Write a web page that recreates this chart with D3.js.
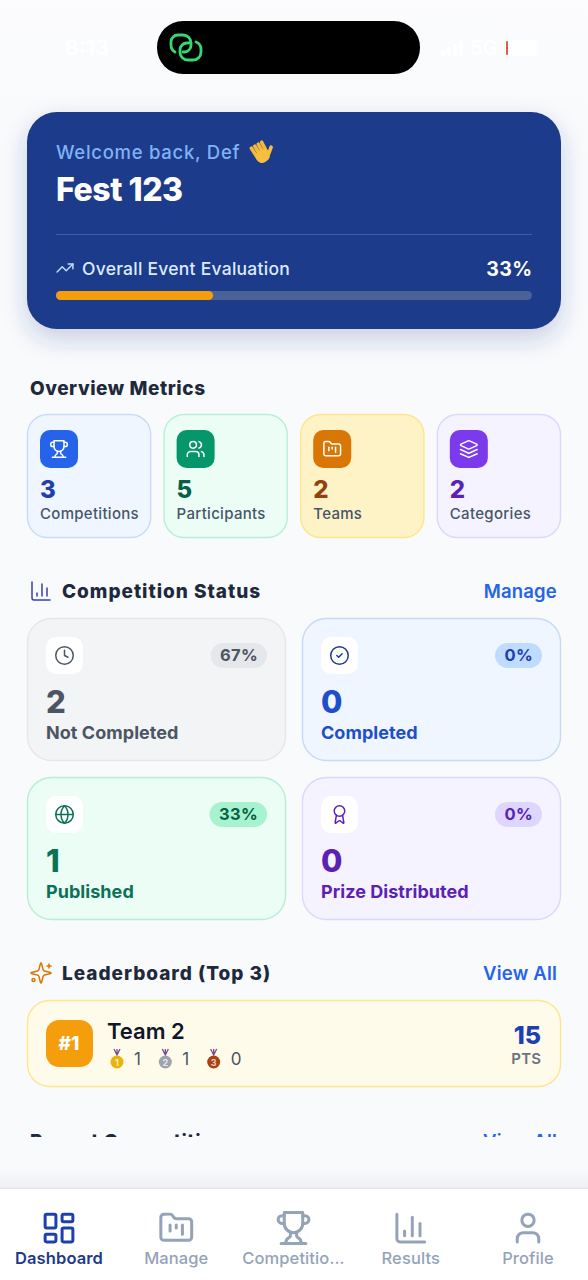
<!DOCTYPE html>
<html>
<head>
<meta charset="utf-8">
<script src="https://cdn.jsdelivr.net/npm/d3@7"></script>
<style>
  html,body{margin:0;padding:0;background:#f8fafc;}
  svg{display:block;}
  text{font-family:Inter,"Noto Sans",sans-serif;}
</style>
</head>
<body>
<script>
// Dashboard data
var metricLabels = ['Competitions','Participants','Teams','Categories'],
    metricValues = [3,5,2,2],
    statusLabels = ['Not Completed','Completed','Published','Prize Distributed'],
    statusValues = [2,0,1,0],
    statusPercents = [67,0,33,0],
    navLabels = ['Dashboard','Manage','Competitio...','Results','Profile'],
    medalCounts = [1,1,0],
    eventTitle = 'Fest 123',
    welcomeText = 'Welcome back, Def',
    progressLabel = 'Overall Event Evaluation',
    progressValue = 33,
    teamName = 'Team 2',
    teamRank = '#1',
    teamPoints = 15;

// colours per card, same order as the labels
var metricFill = ['#eff6ff','#ecfdf5','#fef3c7','#f5f3ff'],
    metricBorder = ['#c9dcf6','#b5f0d6','#fde68a','#ddd6fe'],
    metricIconBg = ['#2563eb','#059669','#d97706','#7c3aed'],
    metricValueColor = ['#1e40af','#065f46','#92400e','#5b21b6'],
    statusFill = ['#f3f4f6','#eff6ff','#ecfdf5','#f5f3ff'],
    statusBorder = ['#e5e7eb','#c5daf5','#b5f0d6','#ddd6fe'],
    statusColor = ['#4b5563','#1e4ec9','#0b7157','#5b21b6'],
    statusIconColor = ['#4b5563','#1e3a8a','#0b7157','#5b21b6'],
    statusPill = ['#e5e7eb','#bfdbfe','#a7f3d0','#ddd6fe'],
    statusPillText = ['#4b5563','#1e40af','#065f46','#5b21b6'],
    medalColor = ['#eab308','#9ca3af','#a8420f'];

// icon paths on a 24 unit grid
var icons = {
  trophy:['M6 9H4.5a2.5 2.5 0 0 1 0-5H6','M18 9h1.5a2.5 2.5 0 0 0 0-5H18','M4 22h16','M10 14.66V17c0 .55-.47.98-.97 1.21C7.85 18.75 7 20.24 7 22','M14 14.66V17c0 .55.47.98.97 1.21C16.15 18.75 17 20.24 17 22','M18 2H6v7a6 6 0 0 0 12 0V2Z'],
  users:['M16 21v-2a4 4 0 0 0-4-4H6a4 4 0 0 0-4 4v2','M13 7a4 4 0 1 1-8 0a4 4 0 1 1 8 0','M22 21v-2a4 4 0 0 0-3-3.87','M16 3.13a4 4 0 0 1 0 7.75'],
  folder:['M4 20h16a2 2 0 0 0 2-2V8a2 2 0 0 0-2-2h-7.93a2 2 0 0 1-1.66-.9l-.82-1.2A2 2 0 0 0 7.93 3H4a2 2 0 0 0-2 2v13c0 1.1.9 2 2 2Z','M8 10v4','M12 10v2','M16 10v6'],
  layers:['M12.83 2.18a2 2 0 0 0-1.66 0L2.6 6.08a1 1 0 0 0 0 1.83l8.58 3.91a2 2 0 0 0 1.66 0l8.58-3.9a1 1 0 0 0 0-1.83Z','M22 17.65l-9.17 4.16a2 2 0 0 1-1.66 0L2 17.65','M22 12.65l-9.17 4.16a2 2 0 0 1-1.66 0L2 12.65'],
  chart:['M3 3v16a2 2 0 0 0 2 2h16','M18 17V9','M13 17V5','M8 17v-3'],
  clock:['M22 12a10 10 0 1 1-20 0a10 10 0 1 1 20 0','M12 6v6l4 2'],
  check:['M22 12a10 10 0 1 1-20 0a10 10 0 1 1 20 0','M9 12l2 2 4-4'],
  globe:['M22 12a10 10 0 1 1-20 0a10 10 0 1 1 20 0','M12 2a14.5 14.5 0 0 0 0 20 14.5 14.5 0 0 0 0-20','M2 12h20'],
  award:['M15.477 12.89l1.515 8.526a.5.5 0 0 1-.81.47l-3.58-2.687a1 1 0 0 0-1.197 0l-3.586 2.686a.5.5 0 0 1-.81-.469l1.514-8.526','M18 8a6 6 0 1 1-12 0a6 6 0 1 1 12 0'],
  sparkles:['M9.937 15.5A2 2 0 0 0 8.5 14.063l-6.135-1.582a.5.5 0 0 1 0-.962L8.5 9.936A2 2 0 0 0 9.937 8.5l1.582-6.135a.5.5 0 0 1 .963 0L14.063 8.5A2 2 0 0 0 15.5 9.937l6.135 1.581a.5.5 0 0 1 0 .964L15.5 14.063a2 2 0 0 0-1.437 1.437l-1.582 6.135a.5.5 0 0 1-.963 0z','M20 3v4','M22 5h-4','M6 19a1.5 1.5 0 1 1-3 0a1.5 1.5 0 1 1 3 0'],
  trending:['M22 7l-8.5 8.5-5-5L2 17','M16 7h6v6'],
  dashboard:['M4 3h5a1 1 0 0 1 1 1v7a1 1 0 0 1-1 1H4a1 1 0 0 1-1-1V4a1 1 0 0 1 1-1Z','M15 3h5a1 1 0 0 1 1 1v3a1 1 0 0 1-1 1h-5a1 1 0 0 1-1-1V4a1 1 0 0 1 1-1Z','M15 12h5a1 1 0 0 1 1 1v7a1 1 0 0 1-1 1h-5a1 1 0 0 1-1-1v-7a1 1 0 0 1 1-1Z','M4 16h5a1 1 0 0 1 1 1v3a1 1 0 0 1-1 1H4a1 1 0 0 1-1-1v-3a1 1 0 0 1 1-1Z'],
  user:['M19 21v-2a4 4 0 0 0-4-4H9a4 4 0 0 0-4 4v2','M16 7a4 4 0 1 1-8 0a4 4 0 1 1 8 0']
};
var metricIcons = ['trophy','users','folder','layers'],
    statusIcons = ['clock','check','globe','award'],
    navIcons = ['dashboard','folder','trophy','chart','user'];

var width = 588, height = 1280;

var svg = d3.select('body').append('svg')
  .attr('width',width)
  .attr('height',height)
  .attr('viewBox','0 0 '+width+' '+height);

var defs = svg.append('defs');
var shadow = defs.append('filter').attr('id','heroShadow')
  .attr('x','-15%').attr('y','-20%').attr('width','130%').attr('height','150%');
shadow.append('feDropShadow')
  .attr('dx',0).attr('dy',10).attr('stdDeviation',12)
  .attr('flood-color','#1e3a8a').attr('flood-opacity',0.22);
defs.append('clipPath').attr('id','scrollClip')
  .append('rect').attr('x',0).attr('y',0).attr('width',width).attr('height',1137);
var navFade = defs.append('linearGradient').attr('id','navFade')
  .attr('x1',0).attr('x2',0).attr('y1',0).attr('y2',1);
navFade.append('stop').attr('offset',0).attr('stop-color','#eef0f4').attr('stop-opacity',0);
navFade.append('stop').attr('offset',1).attr('stop-color','#eef0f4').attr('stop-opacity',1);
var topFade = defs.append('linearGradient').attr('id','topFade')
  .attr('x1',0).attr('x2',0).attr('y1',0).attr('y2',1);
topFade.append('stop').attr('offset',0).attr('stop-color','#fcfcfe');
topFade.append('stop').attr('offset',1).attr('stop-color','#f8fafc');

svg.append('rect').attr('width',width).attr('height',height).attr('fill','#f8fafc');
svg.append('rect').attr('width',width).attr('height',100).attr('fill','url(#topFade)');

function drawIcon(parent,name,cx,cy,size,color,sw){
  var k = size/24;
  parent.append('g')
    .attr('transform','translate('+(cx-size/2)+','+(cy-size/2)+') scale('+k+')')
    .attr('fill','none')
    .attr('stroke',color)
    .attr('stroke-width',sw/k)
    .attr('stroke-linecap','round')
    .attr('stroke-linejoin','round')
    .selectAll('path').data(icons[name]).enter().append('path')
      .attr('d',function(d){return d;});
}

function label(parent,str,x,y,size,weight,color,anchor,spacing){
  return parent.append('text')
    .attr('x',x).attr('y',y)
    .attr('font-size',size)
    .attr('font-weight',weight)
    .attr('fill',color)
    .attr('text-anchor',anchor||'start')
    .attr('letter-spacing',spacing||0)
    .text(str);
}

// status bar, white on near white in the screenshot
var statusBar = svg.append('g');
label(statusBar,'8:13',87,55,22,600,'#ffffff','middle');
label(statusBar,'5G',484,55,20,600,'#ffffff','middle');
statusBar.selectAll('.sig').data([0,1,2,3]).enter().append('rect')
  .attr('x',function(d){return 441+d*6;})
  .attr('y',function(d){return 50-d*3;})
  .attr('width',4)
  .attr('height',function(d){return 6+d*3;})
  .attr('fill','#ffffff');
statusBar.append('rect').attr('x',505).attr('y',40).attr('width',32).attr('height',16).attr('rx',5).attr('fill','#ffffff');
statusBar.append('rect').attr('x',506).attr('y',41).attr('width',2).attr('height',14).attr('rx',1).attr('fill','#e05a50');
statusBar.append('rect').attr('x',157).attr('y',21).attr('width',263).attr('height',53).attr('rx',26).attr('fill','#000000');
statusBar.append('path').attr('d','M175 52a8 8 0 0 1-4-7v-3a7 7 0 0 1 7-7h5a8 8 0 0 1 8 8v2a7 7 0 0 1-6 7h-2')
  .attr('fill','none').attr('stroke','#35d873').attr('stroke-width',2.8).attr('stroke-linecap','round');
statusBar.append('path').attr('d','M196 42a8 8 0 0 1 5 8v2a8 8 0 0 1-8 8h-5a8 8 0 0 1-8-8v-2a7 7 0 0 1 7-7h2')
  .attr('fill','none').attr('stroke','#35d873').attr('stroke-width',2.8).attr('stroke-linecap','round');

// hero card
var hero = svg.append('g');
hero.append('rect')
  .attr('x',27).attr('y',112).attr('width',534).attr('height',217).attr('rx',30)
  .attr('fill','#1e3a8a').attr('filter','url(#heroShadow)');
label(hero,welcomeText,56,159,18.5,500,'#7fb2f6','start',0.72);
// waving hand
var hand = hero.append('g').attr('transform','translate(261,153) rotate(-30) scale(0.9)');
hand.selectAll('line').data([-6,-2,2,6]).enter().append('line')
  .attr('x1',function(d){return d;}).attr('y1',2)
  .attr('x2',function(d){return d*1.1;}).attr('y2',-10)
  .attr('stroke','#f4b93a').attr('stroke-width',4).attr('stroke-linecap','round');
hand.append('rect').attr('x',-8).attr('y',-3).attr('width',16).attr('height',14).attr('rx',7).attr('fill','#f7bf3f');
hand.append('line').attr('x1',7).attr('y1',5).attr('x2',13).attr('y2',0)
  .attr('stroke','#f7bf3f').attr('stroke-width',4).attr('stroke-linecap','round');
label(hero,eventTitle,56,201,32,800,'#ffffff','start',-0.45);
hero.append('rect').attr('x',56).attr('y',234).attr('width',476).attr('height',1).attr('fill','#ffffff').attr('opacity',0.17);
drawIcon(hero,'trending',65,268,19,'#bfdbfe',1.5);
label(hero,progressLabel,82,275,17.5,500,'#dbeafe','start',0.25);
label(hero,progressValue+'%',532.5,276,19.5,700,'#ffffff','end',0.4);
var progressScale = d3.scaleLinear().domain([0,100]).range([0,476]);
hero.append('rect').attr('x',56).attr('y',291).attr('width',progressScale(100)).attr('height',9).attr('rx',4.5).attr('fill','#4a6297');
hero.append('rect').attr('x',56).attr('y',291).attr('width',progressScale(progressValue)).attr('height',9).attr('rx',4.5).attr('fill','#f59e0b');

// overview metrics
label(svg,'Overview Metrics',30,395,19,800,'#1e293b','start',0.55);
var metricX = d3.scaleBand().domain(metricLabels).range([27,561]).paddingInner(0.091);
var metric = svg.selectAll('.metric').data(metricLabels).enter().append('g')
  .attr('class','metric')
  .attr('transform',function(d){return 'translate('+metricX(d)+',414)';});
metric.append('rect')
  .attr('x',0.5).attr('y',0.5)
  .attr('width',metricX.bandwidth()-1).attr('height',123).attr('rx',20)
  .attr('fill',function(d,i){return metricFill[i];})
  .attr('stroke',function(d,i){return metricBorder[i];})
  .attr('stroke-width',1.4);
metric.append('rect')
  .attr('x',13).attr('y',16).attr('width',38).attr('height',38).attr('rx',10)
  .attr('fill',function(d,i){return metricIconBg[i];});
metric.each(function(d,i){
  drawIcon(d3.select(this),metricIcons[i],32,35,20,'#ffffff',1.5);
  label(d3.select(this),metricValues[i],13,84,24,800,metricValueColor[i]);
  label(d3.select(this),d,13,105,15,500,'#475569','start',0.3);
});

function sectionHeader(title,link,y,iconName,iconColor,spacing){
  drawIcon(svg,iconName,41,y-6,24,iconColor,1.5);
  label(svg,title,62,y+1,19,800,'#1e293b','start',spacing);
  label(svg,link,557,y+1,18.5,600,'#2563eb','end',0.2);
}

// competition status
sectionHeader('Competition Status','Manage',597,'chart','#3741a8',0.97);
var statusCol = d3.scaleBand().domain([0,1]).range([27,561]).paddingInner(0.058);
var statusRow = d3.scaleBand().domain([0,1]).range([618,920]).paddingInner(0.1);
var statusCard = svg.selectAll('.status').data(statusLabels).enter().append('g')
  .attr('class','status')
  .attr('transform',function(d,i){return 'translate('+statusCol(i%2)+','+statusRow(Math.floor(i/2))+')';});
statusCard.append('rect')
  .attr('x',0.5).attr('y',0.5)
  .attr('width',statusCol.bandwidth()-1).attr('height',statusRow.bandwidth()-1).attr('rx',24)
  .attr('fill',function(d,i){return statusFill[i];})
  .attr('stroke',function(d,i){return statusBorder[i];})
  .attr('stroke-width',1.4);
statusCard.append('rect')
  .attr('x',19).attr('y',19).attr('width',37).attr('height',37).attr('rx',10)
  .attr('fill','#ffffff');
statusCard.each(function(d,i){
  var g = d3.select(this), w = statusCol.bandwidth();
  drawIcon(g,statusIcons[i],37.5,37.5,21,statusIconColor[i],1.5);
  var t = label(g,statusPercents[i]+'%',w-28,43,16.5,700,statusPillText[i],'end',0.3);
  var tw = t.node().getComputedTextLength();
  g.insert('rect','text')
    .attr('x',w-19-18.5-tw).attr('y',25).attr('width',tw+18.5).attr('height',25).attr('rx',12.5)
    .attr('fill',statusPill[i]);
  label(g,statusValues[i],19,95,31,800,statusColor[i]);
  label(g,d,19,121,18,700,statusColor[i],'start',0.05);
});

// leaderboard
sectionHeader('Leaderboard (Top 3)','View All',979,'sparkles','#d97706',0.97);
var board = svg.append('g').attr('transform','translate(27,1000)');
board.append('rect').attr('x',0.5).attr('y',0.5).attr('width',533).attr('height',86).attr('rx',22)
  .attr('fill','#fffbeb').attr('stroke','#fde68a').attr('stroke-width',1.4);
board.append('rect').attr('x',19).attr('y',20).attr('width',47).attr('height',47).attr('rx',13).attr('fill','#f59e0b');
label(board,teamRank,42,50,19,800,'#ffffff','middle');
label(board,teamName,80,39,22,600,'#0f172a');
var medalX = d3.scaleBand().domain(d3.range(medalCounts.length)).range([80,225]);
var medal = board.selectAll('.medal').data(medalCounts).enter().append('g')
  .attr('class','medal')
  .attr('transform',function(d,i){return 'translate('+medalX(i)+',0)';});
medal.append('path').attr('d','M7 49l3 6 3-6M10 49v6')
  .attr('fill','none').attr('stroke','#7a4a8c').attr('stroke-width',1.3);
medal.append('circle').attr('cx',10).attr('cy',62).attr('r',6.5)
  .attr('fill',function(d,i){return medalColor[i];});
medal.append('text').attr('x',10).attr('y',65.5).attr('font-size',9).attr('font-weight',700)
  .attr('text-anchor','middle').attr('fill','#ffffff').attr('fill-opacity',0.75)
  .text(function(d,i){return i+1;});
medal.append('text').attr('x',27).attr('y',65).attr('font-size',17).attr('fill','#4b5563')
  .text(function(d){return d;});
label(board,teamPoints,514,44,25,800,'#1e40af','end');
label(board,'PTS',514.3,64,15,600,'#6b7280','end',0.2);

// next section, cut off by the scroll area
var clipped = svg.append('g').attr('clip-path','url(#scrollClip)');
label(clipped,'Recent Competitions',30,1148,19,800,'#1e293b','start',0.55);
label(clipped,'View All',557,1148,18.5,600,'#2563eb','end',0.2);

// bottom navigation
svg.append('rect').attr('x',0).attr('y',1168).attr('width',width).attr('height',20).attr('fill','url(#navFade)');
svg.append('rect').attr('x',0).attr('y',1188).attr('width',width).attr('height',92).attr('fill','#ffffff');
svg.append('rect').attr('x',0).attr('y',1187.5).attr('width',width).attr('height',1.5).attr('fill','#e5e7eb');
var navX = d3.scalePoint().domain(navLabels).range([59,528]);
var nav = svg.selectAll('.nav').data(navLabels).enter().append('g').attr('class','nav');
nav.each(function(d,i){
  var g = d3.select(this), c = i==0?'#1e40af':'#94a3b8';
  drawIcon(g,navIcons[i],navX(d),1228,37,c,3);
  label(g,d,navX(d),1264,16.5,i==0?600:500,i==0?'#1e3a8a':'#94a3b8','middle',0.1);
});
</script>
</body>
</html>
